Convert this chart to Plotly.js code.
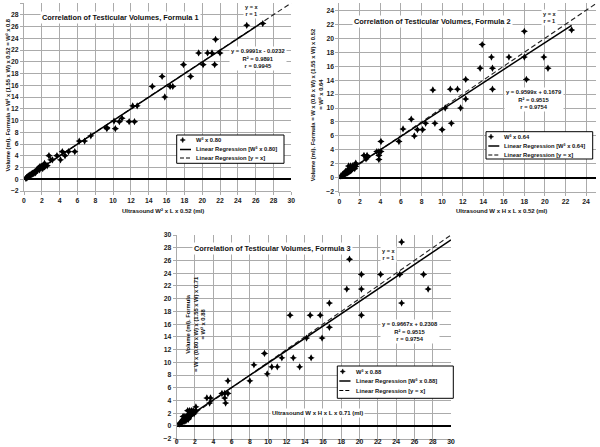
<!DOCTYPE html>
<html><head><meta charset="utf-8">
<script src="https://cdn.plot.ly/plotly-3.0.1.min.js"></script>
<style>html,body{margin:0;padding:0;background:#fff}#chart{width:600px;height:447px}</style>
</head><body><div id="chart"></div>
<script>
// ---------- DATA ----------
// Formula 1: Ultrasound W^2 x L x 0.52 (x) vs W^3 x 0.80 (y)
const f1X = [26.8,25.0,21.5,19.6,20.6,21.1,22.0,17.9,20.1,21.4,15.5,18.7,14.4,16.4,16.7,15.8,12.2,12.7,11.0,10.1,10.7,11.8,12.4,10.25,9.3,9.3,7.5,6.8,6.2,5.7,5.0,4.3,4.6,3.7,2.8,4.1,3.0,3.2,2.3,2.6,
  0.2,0.25,0.3,0.35,0.4,0.45,0.5,0.55,0.6,0.65,0.7,0.75,0.8,0.85,0.9,0.95,1.0,1.05,1.1,1.2,1.25,1.3,1.4,1.45,1.5,1.6,1.7,1.75,1.8,1.9,2.0,2.1,2.2,2.3,2.4];
const f1Y = [26.5,26.2,23.8,21.5,21.5,21.5,21.5,19.5,19.5,19.5,17.5,17.5,15.8,15.8,15.8,14.0,12.5,12.5,10.4,9.9,9.8,9.8,9.8,8.6,8.8,8.6,7.4,6.5,6.5,4.7,4.7,4.7,4.0,4.0,4.0,3.3,3.3,3.3,2.7,2.3,
  0.15,0.2,0.3,0.3,0.4,0.5,0.45,0.6,0.55,0.7,0.75,0.7,0.8,0.9,0.85,1.0,1.0,1.1,0.95,1.2,1.3,1.1,1.4,1.6,1.5,1.8,2.0,1.6,2.2,2.0,2.2,1.8,2.3,2.1,2.4];

// Formula 2: Ultrasound W x H x L x 0.52 (x) vs W^3 x 0.64 (y)
const f2X = [22.6,18.0,13.9,14.8,16.5,18.0,19.9,13.7,14.9,20.3,18.2,12.3,14.9,10.8,11.5,9.1,12.3,11.8,10.3,10.9,9.3,8.4,10.0,8.1,7.6,7.0,7.3,6.2,5.8,4.05,4.05,3.85,3.65,3.85,3.85,2.4,2.7,2.6,2.7,
  0.15,0.2,0.3,0.35,0.4,0.45,0.5,0.55,0.6,0.6,0.65,0.7,0.75,0.8,0.8,0.85,0.9,0.9,0.95,1.0,1.0,1.05,1.1,1.1,1.15,1.2,1.2,1.3,1.3,1.35,1.4,1.5,1.5,1.6,1.6];
const f2Y = [21.2,21.0,19.1,17.3,17.3,17.3,17.3,15.7,15.7,15.7,14.1,14.1,12.7,12.7,12.7,12.6,11.3,10.0,10.0,7.8,7.8,7.8,6.9,6.9,6.9,8.4,6.0,7.0,5.2,5.2,3.75,3.75,3.75,3.2,2.6,3.2,3.2,2.7,2.9,
  0.25,0.3,0.4,0.3,0.5,0.4,0.6,0.5,0.7,0.9,0.6,0.8,1.0,0.7,1.1,0.9,0.8,1.7,1.0,1.1,0.9,1.3,1.7,1.0,1.2,1.4,1.1,1.7,1.3,1.5,1.5,1.3,1.8,2.1,1.6];

// Formula 3: Ultrasound W x H x L x 0.71 (x) vs W^3 x 0.88 (y)
const f3X = [24.6,18.9,20.2,22.3,24.4,27.0,18.6,20.2,27.5,24.6,16.7,14.6,15.7,20.2,12.4,16.7,15.9,14.2,9.6,11.5,12.75,14.7,13.45,10.4,11.0,9.9,8.45,8.0,5.6,4.95,5.25,5.6,5.25,5.35,3.3,3.7,3.6,
  0.3,0.35,0.4,0.45,0.5,0.55,0.6,0.65,0.7,0.7,0.75,0.8,0.8,0.85,0.9,0.9,0.95,1.0,1.0,1.1,1.1,1.2,1.2,1.25,1.3,1.3,1.4,1.4,1.5,1.5,1.6,1.6,1.7,1.8,1.9,2.0,2.1,2.1];
const f3Y = [28.9,26.2,23.8,23.8,23.8,23.8,21.5,21.5,21.5,19.3,19.3,17.4,17.4,17.4,17.4,15.5,13.8,13.8,11.4,10.7,10.7,10.7,9.3,9.3,9.3,8.2,9.6,7.1,7.1,5.1,5.1,5.1,4.4,3.6,4.4,4.4,3.6,
  0.3,0.4,0.5,0.4,0.6,0.7,0.7,0.8,1.0,1.5,0.8,0.7,1.2,1.0,0.9,1.5,1.1,1.1,0.8,1.3,1.5,1.5,2.4,1.0,1.8,1.2,2.4,1.5,2.0,1.6,1.7,2.4,2.1,2.4,1.9,2.2,3.0,2.4];

// Linear regression fits [slope, intercept] and x extent of the drawn fit line
const fitSlope = [0.9991, 0.9599, 0.9667];
const fitIntercept = [-0.0232, 0.1679, 0.2308];
const fitXStart = [0.2, 0.2, 0.3];
const fitXEnd = [26.8, 22.6, 30];
// y = x reference line extent
const identityEnd = [30, 25, 30];

// Text
const seriesNames = ['W³ x 0.80', 'W³ x 0.64', 'W³ x 0.88'];
const fitNames = ['Linear Regression [W³ x 0.80]', 'Linear Regression [W³ x 0.64]', 'Linear Regression [W³ x 0.88]'];
const identityName = 'Linear Regression [y = x]';
const chartTitles = ['Correlation of Testicular Volumes, Formula 1', 'Correlation of Testicular Volumes, Formula 2', 'Correlation of Testicular Volumes, Formula 3'];
const eqTexts = ['y = 0.9991x - 0.0232<br>R² = 0.9891<br>r = 0.9945', 'y = 0.9599x + 0.1679<br>R² = 0.9515<br>r = 0.9754', 'y = 0.9667x + 0.2308<br>R² = 0.9515<br>r = 0.9754'];
const identityText = 'y = x<br>r = 1';

// ---------- LAYOUT HELPERS ----------
const W = 600, H = 447;
const px = x => x / W;
const py = y => 1 - y / H;
const FONT = 'Liberation Sans, Arial, sans-serif';
const GRID = '#ababab';

const xs = [f1X, f2X, f3X], ys = [f1Y, f2Y, f3Y];
const axSuffix = ['', '2', '3'];
const traces = [];
for (let i = 0; i < 3; i++) {
  const xa = 'x' + axSuffix[i], ya = 'y' + axSuffix[i];
  traces.push({x: [0, identityEnd[i]], y: [0, identityEnd[i]], xaxis: xa, yaxis: ya, mode: 'lines', name: identityName,
    line: {color: '#222', width: 1.1, dash: '5px,3px'}, showlegend: false, hoverinfo: 'skip'});
  traces.push({x: [fitXStart[i], fitXEnd[i]], y: [fitSlope[i]*fitXStart[i] + fitIntercept[i], fitSlope[i]*fitXEnd[i] + fitIntercept[i]],
    xaxis: xa, yaxis: ya, mode: 'lines', name: fitNames[i], line: {color: '#000', width: 1.5}, showlegend: false});
  traces.push({x: xs[i], y: ys[i], xaxis: xa, yaxis: ya, mode: 'markers', name: seriesNames[i], showlegend: false,
    marker: {symbol: 'star-diamond', size: 5.2, color: '#000'}});
}

function xAxis(domain, range, anchor, standoff) {
  return {domain, range, anchor, dtick: 2, tick0: 0, showgrid: true, gridcolor: GRID, gridwidth: 1, zeroline: false,
    showline: true, linecolor: GRID, ticks: 'outside', ticklen: 3, tickcolor: GRID, ticklabelstandoff: standoff || 0,
    tickfont: {family: FONT, size: 6.8, color: '#222', weight: 'bold'}, fixedrange: true};
}
function yAxis(domain, range, anchor) {
  return {domain, range, anchor, dtick: 2, tick0: 0, showgrid: true, gridcolor: GRID, gridwidth: 1,
    zeroline: true, zerolinecolor: '#000', zerolinewidth: 2,
    showline: true, linecolor: GRID, ticks: 'outside', ticklen: 3, tickcolor: GRID,
    tickfont: {family: FONT, size: 6.8, color: '#222', weight: 'bold'}, fixedrange: true};
}

const annFont = (s) => ({family: FONT, size: s, color: '#111', weight: 'bold'});
const annotations = [];
const shapes = [];
function ann(text, x, y, size, extra) {
  annotations.push(Object.assign({text, x: px(x), y: py(y), xref: 'paper', yref: 'paper', showarrow: false,
    font: annFont(size), xanchor: 'center', yanchor: 'middle'}, extra || {}));
}
// titles
ann(chartTitles[0], 120, 17, 7.4, {bgcolor: '#fff'});
ann(chartTitles[1], 432, 22, 7.4, {bgcolor: '#fff'});
ann(chartTitles[2], 272.5, 248.5, 7.4, {bgcolor: '#fff'});
// y = x notes
ann(identityText, 251, 10.3, 5.6, {bgcolor: '#fff'});
ann(identityText, 549, 17.5, 5.6, {bgcolor: '#fff'});
ann(identityText, 388.7, 255, 5.6, {bgcolor: '#fff'});
// regression equations
ann(eqTexts[0], 257.5, 58.7, 5.8, {bgcolor: '#fff'});
ann(eqTexts[1], 534, 99, 5.8, {bgcolor: '#fff'});
ann(eqTexts[2], 409.7, 331, 5.8, {bgcolor: '#fff'});
// axis titles
ann('Ultrasound W² x L x 0.52 (ml)', 163, 211, 6);
ann('Ultrasound W x H x L x 0.52 (ml)', 501, 211, 6);
ann('Ultrasound W x H x L x 0.71 (ml)', 317.5, 412.7, 6, {bgcolor: '#fff'});
ann('Volume (ml). Formula = W² x (1.55 x W) x 0.52 = W³ x 0.8', 7.5, 95, 5.8, {textangle: -90});
ann('Volume (ml). Formula = W x (0.8 x W) x (1.55 x W) x 0.52', 313.3, 105, 5.8, {textangle: -90});
ann('= W³ x 0.64', 320.7, 94, 5.8, {textangle: -90});
ann('Volume (ml). Formula<br>= W x (0.80 x W) x (1.55 x W) x 0.71<br>= W³ x 0.88', 195, 324, 5.8, {textangle: -90});

// manual legends: box [x0,x1,y0,y1], rows y, marker x, line x0-x1, text x
const legends = [
  {box: [176.7, 284, 135, 163.3], rows: [140, 149.5, 158], mx: 182.7, lx: [180, 191], tx: 193.5, i: 0},
  {box: [486, 592.7, 131.7, 159], rows: [136.7, 146, 155], mx: 491, lx: [488.3, 499.3], tx: 501.7, i: 1},
  {box: [337.3, 453.3, 366, 398.3], rows: [371.5, 381, 390.5], mx: 342.7, lx: [339.3, 350.5], tx: 354, i: 2}
];
legends.forEach(L => {
  shapes.push({type: 'rect', xref: 'paper', yref: 'paper', x0: px(L.box[0]), x1: px(L.box[1]), y0: py(L.box[2]), y1: py(L.box[3]),
    line: {color: '#000', width: 1}, fillcolor: '#fff', layer: 'above'});
  // marker glyph (4-point star)
  const cx = L.mx, cy = L.rows[0], d = 2.6, e = 0.8;
  const pts = [[cx, cy - d], [cx + e, cy - e], [cx + d, cy], [cx + e, cy + e], [cx, cy + d], [cx - e, cy + e], [cx - d, cy], [cx - e, cy - e]];
  shapes.push({type: 'path', xref: 'paper', yref: 'paper', layer: 'above', fillcolor: '#000', line: {color: '#000', width: 0.5},
    path: 'M' + pts.map(p => px(p[0]) + ',' + py(p[1])).join('L') + 'Z'});
  shapes.push({type: 'line', xref: 'paper', yref: 'paper', layer: 'above', x0: px(L.lx[0]), x1: px(L.lx[1]), y0: py(L.rows[1]), y1: py(L.rows[1]),
    line: {color: '#000', width: 1.5}});
  shapes.push({type: 'line', xref: 'paper', yref: 'paper', layer: 'above', x0: px(L.lx[0]), x1: px(L.lx[1]), y0: py(L.rows[2]), y1: py(L.rows[2]),
    line: {color: '#000', width: 1.1, dash: '4px,2px'}});
  const labels = [seriesNames[L.i], fitNames[L.i], identityName];
  labels.forEach((t, k) => ann(t, L.tx, L.rows[k], 5.8, {xanchor: 'left'}));
});

const layout = {
  width: W, height: H, margin: {l: 0, r: 0, t: 0, b: 0},
  paper_bgcolor: '#fff', plot_bgcolor: '#fff', showlegend: false,
  font: {family: FONT, color: '#111'},
  xaxis: xAxis([px(24), px(291.3)], [0, 30], 'y'),
  yaxis: yAxis([py(191), py(3)], [-2, 30], 'x'),
  xaxis2: xAxis([px(339.3), px(596.3)], [0, 25], 'y2'),
  yaxis2: yAxis([py(191.7), py(3.4)], [-2, 25], 'x2'),
  xaxis3: xAxis([px(176.7), px(451)], [0, 30], 'y3', -7),
  yaxis3: yAxis([py(438.7), py(235)], [-2, 30], 'x3'),
  annotations, shapes
};
Plotly.newPlot('chart', traces, layout, {displayModeBar: false, staticPlot: true});
</script>
</body></html>
